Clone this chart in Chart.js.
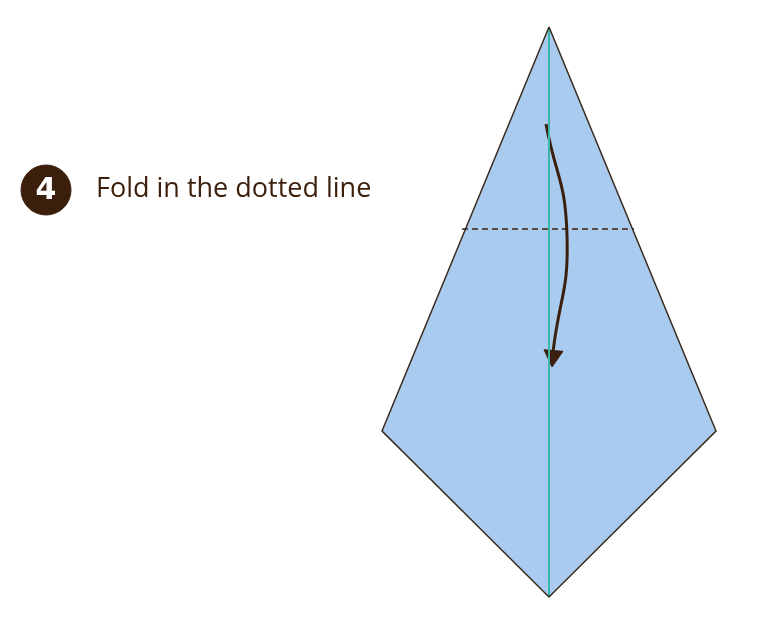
<!DOCTYPE html>
<html><head><meta charset="utf-8">
<script src="https://cdn.jsdelivr.net/npm/chart.js@4"></script>
<style>body{margin:0;background:#fff}</style>
</head><body>
<canvas id="c" width="782" height="626"></canvas>
<script>
// shape points in picture units
const kite = [{x:549,y:27},{x:716,y:431},{x:549,y:597},{x:382,y:431},{x:549,y:27}];
const creaseLine = [{x:549,y:27},{x:549,y:597}];
const dottedLine = [{x:462,y:229},{x:634,y:229}];
const arrowPath = [{x:546,y:124},{x:567,y:235},{x:553,y:352}];
const arrowTip = [{x:553,y:356}];
const stepBadge = [{x:46,y:190}];
const stepLabel = 'Fold in the dotted line';

const brown = '#3b1f0c';
const labels = {
  id: 'labels',
  afterDatasetsDraw(chart) {
    const c = chart.ctx, xs = chart.scales.x, ys = chart.scales.y;
    c.save();
    c.fillStyle = '#fff';
    c.font = 'bold 30px "DejaVu Sans"';
    c.textAlign = 'center'; c.textBaseline = 'middle';
    c.fillText('4', xs.getPixelForValue(46), ys.getPixelForValue(191));
    c.fillStyle = brown;
    c.font = '27px "Open Sans"';
    c.textAlign = 'left';
    c.fillText(stepLabel, xs.getPixelForValue(96), ys.getPixelForValue(189));
    c.restore();
  }
};

new Chart(document.getElementById('c'), {
  type: 'scatter',
  data: { datasets: [
    { data: kite, showLine: true, fill: 'shape', backgroundColor: '#a9cbef', borderColor: '#3a2a1a', borderWidth: 1.5, pointRadius: 0 },
    { data: creaseLine, showLine: true, borderColor: '#3bb5a8', borderWidth: 2, pointRadius: 0 },
    { data: dottedLine, showLine: true, borderColor: brown, borderWidth: 1.3, borderDash: [6, 4], pointRadius: 0 },
    { data: arrowPath, showLine: true, tension: 0.5, borderColor: brown, borderWidth: 3, pointRadius: 0 },
    { data: arrowTip, pointStyle: 'triangle', pointRadius: 11, rotation: 185, backgroundColor: brown, borderColor: brown },
    { data: stepBadge, pointRadius: 25, backgroundColor: brown, borderColor: brown }
  ]},
  options: {
    responsive: false, animation: false,
    layout: { padding: 0, autoPadding: false },
    plugins: { legend: { display: false }, tooltip: { enabled: false }, filler: { drawTime: 'beforeDatasetsDraw' } },
    scales: {
      x: { type: 'linear', min: 0, max: 782, display: false },
      y: { type: 'linear', min: 0, max: 626, reverse: true, display: false }
    }
  },
  plugins: [labels]
});
</script>
</body></html>
